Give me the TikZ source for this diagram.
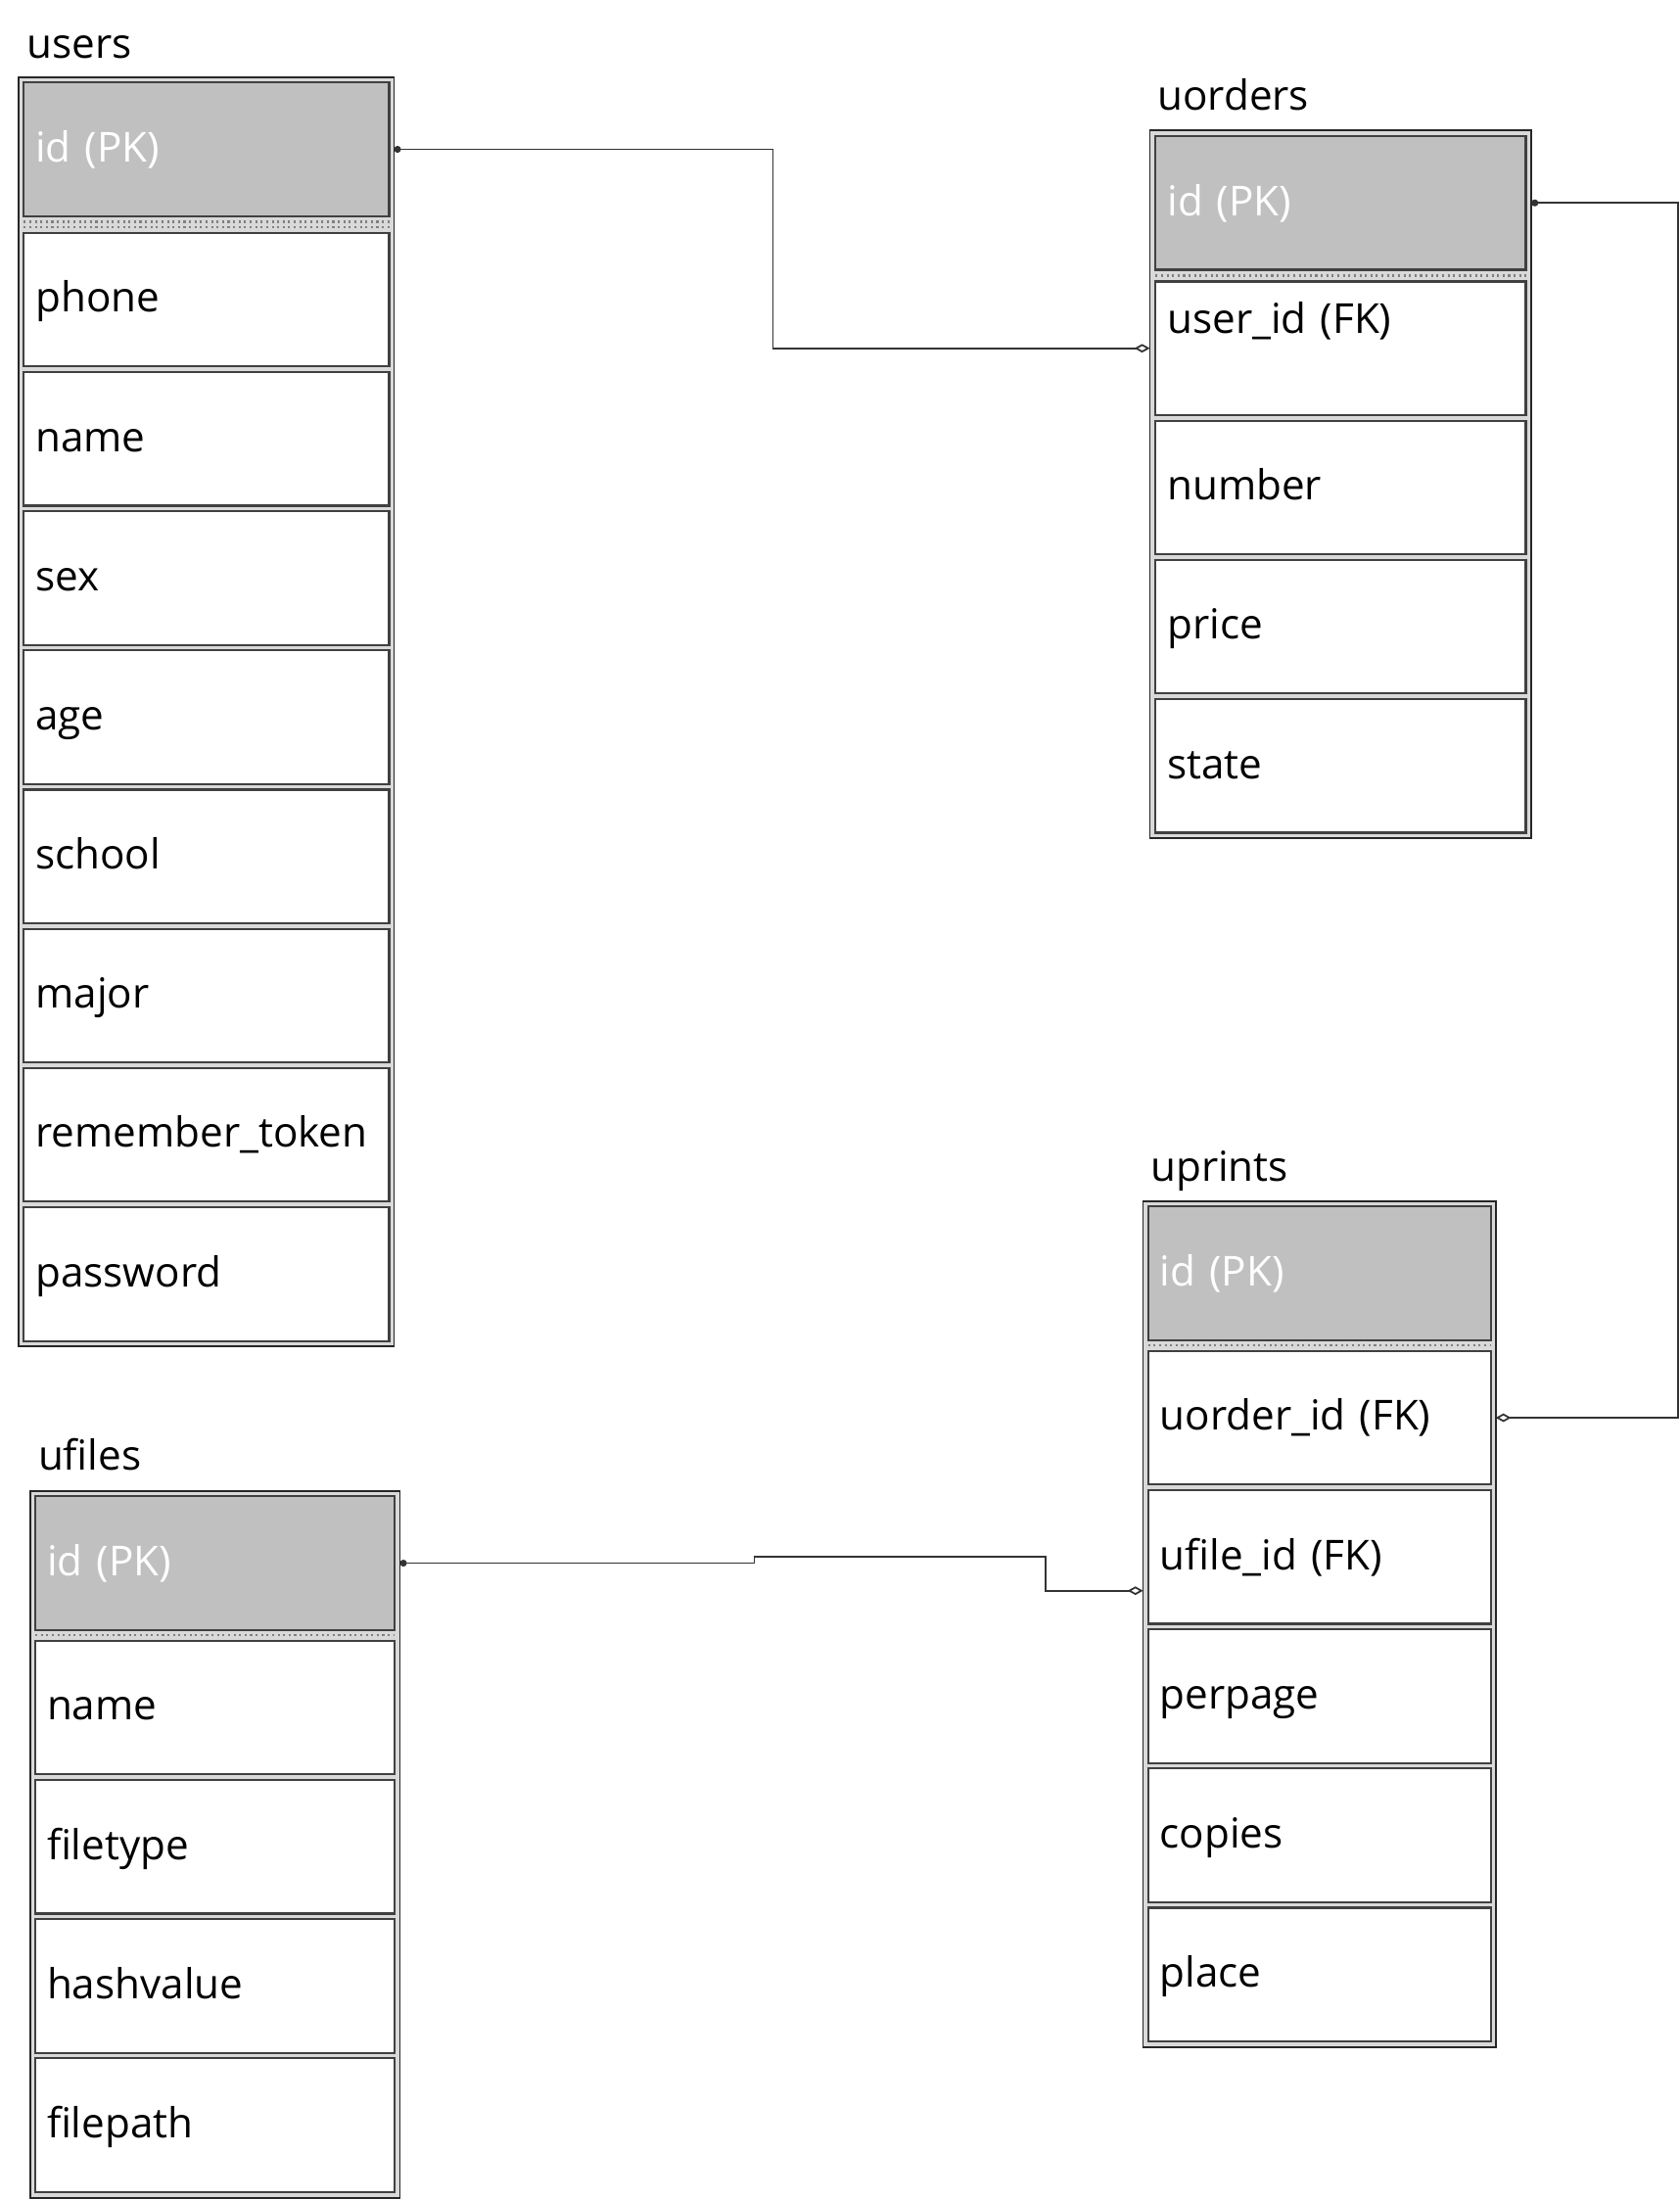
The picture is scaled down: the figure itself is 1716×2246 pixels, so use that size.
\documentclass[tikz,border=0pt]{standalone}
\usepackage{fontspec}
\setmainfont{Open Sans}
\usetikzlibrary{positioning,arrows.meta}

\definecolor{pkgray}{HTML}{C0C0C0}
\definecolor{framegray}{HTML}{D9D9D9}
\definecolor{cellline}{HTML}{404040}

\newcommand{\erfont}{\fontsize{12}{14}\selectfont}

\tikzset{
  tblframe/.style={draw=black!85, fill=framegray, line width=0.5pt, inner sep=0pt, outer sep=0pt, anchor=north west},
  tblname/.style={anchor=base west, inner sep=0pt, font=\erfont},
  cell/.style={draw=cellline, line width=0.6pt, minimum height=1.364cm, inner xsep=0.12cm, inner ysep=0pt, outer sep=0pt,
               text height=0.36cm, text depth=0.104cm, align=left, font=\erfont},
  pkcell/.style={cell, fill=pkgray, text=white, anchor=north west, text width=#1},
  fieldcell/.style={cell, fill=white, text width=#1},
  sepline/.style={draw=gray, densely dotted, line width=0.6pt},
  link/.style={draw=black!80, line width=0.5pt, {Circle[length=2pt]}-{Diamond[open,length=4.5pt,width=2.5pt]}},
}

\begin{document}
\begin{tikzpicture}[x=0.01cm, y=-0.01cm]
\useasboundingbox (0,0) rectangle (1716,2246);

% users
\node[tblname] (userslbl) at (26.7,59.3) {users};
\node[tblframe, minimum width=3.83cm, minimum height=12.953cm] (users) at (19.3,78.7) {};
\node[pkcell=3.49cm] (uid) at (24.3,84.3) {id (PK)};
\draw[sepline] ([yshift=-0.057cm]uid.south west) -- ([yshift=-0.057cm]uid.south east);
\draw[sepline] ([yshift=-0.11cm]uid.south west) -- ([yshift=-0.11cm]uid.south east);
\node[fieldcell=3.49cm, below=0.17cm of uid]     (uphone)    {phone};
\node[fieldcell=3.49cm, below=0.057cm of uphone] (uname)     {name};
\node[fieldcell=3.49cm, below=0.057cm of uname]  (usex)      {sex};
\node[fieldcell=3.49cm, below=0.057cm of usex]   (uage)      {age};
\node[fieldcell=3.49cm, below=0.057cm of uage]   (uschool)   {school};
\node[fieldcell=3.49cm, below=0.057cm of uschool] (umajor)   {major};
\node[fieldcell=3.49cm, below=0.057cm of umajor] (utoken)    {remember\_token};
\node[fieldcell=3.49cm, below=0.057cm of utoken] (upassword) {password};

% uorders
\node[tblname] (uorderslbl) at (1181.7,113) {uorders};
\node[tblframe, minimum width=3.895cm, minimum height=7.22cm] (uorders) at (1174.5,133.3) {};
\node[pkcell=3.54cm] (oid) at (1180.3,139) {id (PK)};
\draw[sepline] ([yshift=-0.06cm]oid.south west) -- ([yshift=-0.06cm]oid.south east);
\node[fieldcell=3.54cm, text depth=0.66cm, below=0.12cm of oid] (ouserid) {user\_id (FK)};
\node[fieldcell=3.54cm, below=0.057cm of ouserid] (onumber) {number};
\node[fieldcell=3.54cm, below=0.057cm of onumber] (oprice)  {price};
\node[fieldcell=3.54cm, below=0.057cm of oprice]  (ostate)  {state};

% uprints
\node[tblname] (uprintslbl) at (1174.6,1206.7) {uprints};
\node[tblframe, minimum width=3.599cm, minimum height=8.637cm] (uprints) at (1167.6,1226.7) {};
\node[pkcell=3.26cm] (pid) at (1172.7,1232.3) {id (PK)};
\draw[sepline] ([yshift=-0.055cm]pid.south west) -- ([yshift=-0.055cm]pid.south east);
\node[fieldcell=3.26cm, below=0.11cm of pid]       (puorderid) {uorder\_id (FK)};
\node[fieldcell=3.26cm, below=0.057cm of puorderid] (pufileid) {ufile\_id (FK)};
\node[fieldcell=3.26cm, below=0.057cm of pufileid] (pperpage)  {perpage};
\node[fieldcell=3.26cm, below=0.057cm of pperpage] (pcopies)   {copies};
\node[fieldcell=3.26cm, below=0.057cm of pcopies]  (pplace)    {place};

% ufiles
\node[tblname] (ufileslbl) at (38.3,1501.7) {ufiles};
\node[tblframe, minimum width=3.776cm, minimum height=7.216cm] (ufiles) at (30.7,1522.7) {};
\node[pkcell=3.427cm] (fid) at (36,1528.3) {id (PK)};
\draw[sepline] ([yshift=-0.055cm]fid.south west) -- ([yshift=-0.055cm]fid.south east);
\node[fieldcell=3.427cm, below=0.11cm of fid]       (fname)     {name};
\node[fieldcell=3.427cm, below=0.057cm of fname]    (ffiletype) {filetype};
\node[fieldcell=3.427cm, below=0.057cm of ffiletype] (fhash)    {hashvalue};
\node[fieldcell=3.427cm, below=0.057cm of fhash]    (fpath)     {filepath};

% relations
\coordinate (bend1) at (789.5,0);
\coordinate (bend2) at (1714.3,0);
\coordinate (jog1) at (770.6,1589.7);
\coordinate (jog2) at (1068,1624.7);

\draw[link] (uid.east -| users.east) -| (bend1 |- ouserid.west) -- (ouserid.west -| uorders.west);
\draw[link] (oid.east -| uorders.east) -| (bend2 |- puorderid.east) -- (puorderid.east -| uprints.east);
\draw[link] (fid.east -| ufiles.east) -| (jog1) -| (jog2) -- (jog2 -| uprints.west);

\end{tikzpicture}
\end{document}
